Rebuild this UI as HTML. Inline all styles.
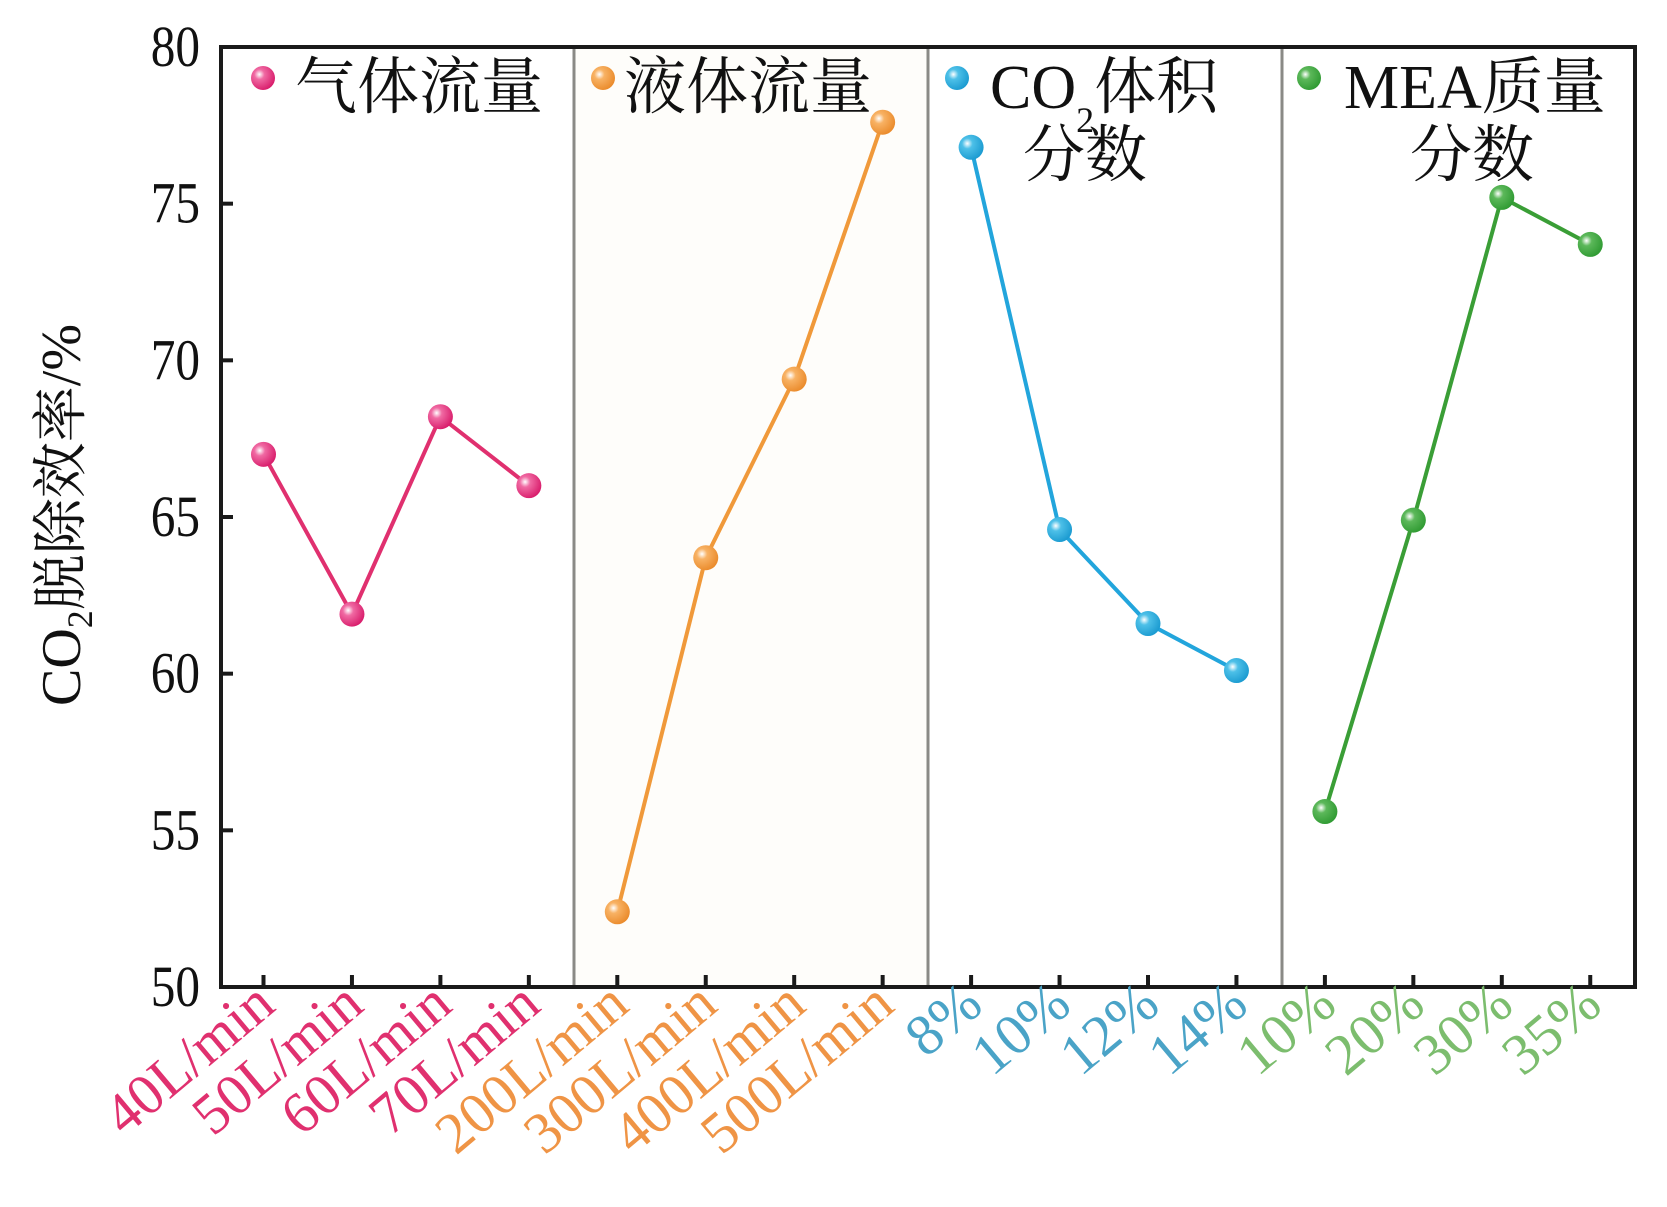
<!DOCTYPE html>
<html><head><meta charset="utf-8"><style>
html,body{margin:0;padding:0;background:#fff;}
svg{display:block;}
text{font-family:"Liberation Serif","Noto Serif CJK SC",serif;}
</style></head><body>
<svg id="chart" width="1667" height="1207" viewBox="0 0 1667 1207">
<defs>
<radialGradient id="gpink" cx="0.35" cy="0.35" r="0.7"><stop offset="0" stop-color="#fff"/><stop offset="0.3" stop-color="#f06aa3"/><stop offset="1" stop-color="#d81b6a"/></radialGradient>
<radialGradient id="gorange" cx="0.35" cy="0.35" r="0.7"><stop offset="0" stop-color="#fff"/><stop offset="0.3" stop-color="#f8b264"/><stop offset="1" stop-color="#ea8a2a"/></radialGradient>
<radialGradient id="gblue" cx="0.35" cy="0.35" r="0.7"><stop offset="0" stop-color="#fff"/><stop offset="0.3" stop-color="#4dc0e8"/><stop offset="1" stop-color="#1a9ad0"/></radialGradient>
<radialGradient id="ggreen" cx="0.35" cy="0.35" r="0.7"><stop offset="0" stop-color="#fff"/><stop offset="0.3" stop-color="#5cb85a"/><stop offset="1" stop-color="#2f9a32"/></radialGradient>
</defs>
<g id="plot"></g>
</svg>
<script>
const groupNames = ["气体流量","液体流量","CO2体积分数","MEA质量分数"];
const categories = ["40L/min","50L/min","60L/min","70L/min","200L/min","300L/min","400L/min","500L/min","8%","10%","12%","14%","10%","20%","30%","35%"];
const gasFlow = [67.0, 61.9, 68.2, 66.0];
const liquidFlow = [52.4, 63.7, 69.4, 77.6];
const co2Fraction = [76.8, 64.6, 61.6, 60.1];
const meaFraction = [55.6, 64.9, 75.2, 73.7];
const yTicks = [50,55,60,65,70,75,80];

const L=221,R=1635,T=47,B=987;
const x0=263.5, step=88.45;
const xs = i => x0 + step*i;
const ys = v => B - (v-50)/30*(B-T);
const NS="http://www.w3.org/2000/svg";
const g=document.getElementById('plot');
function mk(tag,attrs,parent){const e=document.createElementNS(NS,tag);for(const k in attrs)e.setAttribute(k,attrs[k]);(parent||g).appendChild(e);return e;}

const series=[
 {vals:gasFlow,color:"#e0306f",labelColor:"#e0306f",grad:"gpink",name:"gas-flow"},
 {vals:liquidFlow,color:"#f0993a",labelColor:"#ef9445",grad:"gorange",name:"liquid-flow"},
 {vals:co2Fraction,color:"#22a5dc",labelColor:"#4aa3c7",grad:"gblue",name:"co2-fraction"},
 {vals:meaFraction,color:"#3a9e36",labelColor:"#7cbd6e",grad:"ggreen",name:"mea-fraction"}
];

const bg=mk('rect',{x:574,y:T,width:354,height:B-T,fill:"#fefdfa"});


const dividers=[574,928,1282];
dividers.forEach(d=>{
 const l=mk('line',{x1:d,y1:T,x2:d,y2:B,stroke:"#8a8a86","stroke-width":3});
 
 
});
const fr=mk('rect',{x:L,y:T,width:R-L,height:B-T,fill:"none",stroke:"#1a1a1a","stroke-width":4});



yTicks.forEach(v=>{
 const y=ys(v);
 const t=mk('line',{x1:L,y1:y,x2:L+12,y2:y,stroke:"#1a1a1a","stroke-width":4});
 
 
 const tx=mk('text',{transform:`translate(200,${y+19}) scale(0.85,1)`,"text-anchor":"end","font-size":58,fill:"#111"});
 tx.textContent=v;
 
 
});
const yt=mk('text',{transform:"translate(80,515) rotate(-90)","text-anchor":"middle","font-size":56,fill:"#111"});
yt.innerHTML='CO<tspan font-size="36" dy="12">2</tspan><tspan dy="-12">脱除效率/%</tspan>';



categories.forEach((c,i)=>{
 const x=xs(i);
 const t=mk('line',{x1:x,y1:B,x2:x,y2:B-12,stroke:"#1a1a1a","stroke-width":4});
 
 
 const col=series[Math.floor(i/4)].labelColor;
 const tx=mk('text',{transform:`translate(${x+14},${B+22}) rotate(-40)`,"text-anchor":"end","font-size":58,fill:col});
 tx.textContent=c;
 
 
});

series.forEach((s,si)=>{
 const pts=s.vals.map((v,j)=>[xs(si*4+j),ys(v)]);
 const pl=mk('polyline',{points:pts.map(p=>p.join(',')).join(' '),fill:"none",stroke:s.color,"stroke-width":4});
 
 
 pts.forEach(p=>{
  const c=mk('circle',{cx:p[0],cy:p[1],r:12.5,fill:`url(#${s.grad})`});
  
  
 });
});

const legends=[
 {mx:263,tx:295,html:'气体流量',g:"gpink"},
 {mx:603,tx:624,html:'液体流量',g:"gorange"},
 {mx:957,tx:990,html:'CO<tspan font-size="36" dy="24">2</tspan><tspan dy="-24">体积</tspan>',g:"gblue",l2:{x:1023,t:'分数'}},
 {mx:1309,tx:1344,html:'MEA质量',g:"ggreen",l2:{x:1410,t:'分数'}}
];
legends.forEach(lg=>{
 const m=mk('circle',{cx:lg.mx,cy:78,r:12,fill:`url(#${lg.g})`});
 
 
 const t=mk('text',{x:lg.tx,y:108,"font-size":62,fill:"#111"});
 t.innerHTML=lg.html;
 
 
 if(lg.l2){
  const t2=mk('text',{x:lg.l2.x,y:176,"font-size":62,fill:"#111"});
  t2.textContent=lg.l2.t;
  
  
 }
});
</script>
</body></html>
